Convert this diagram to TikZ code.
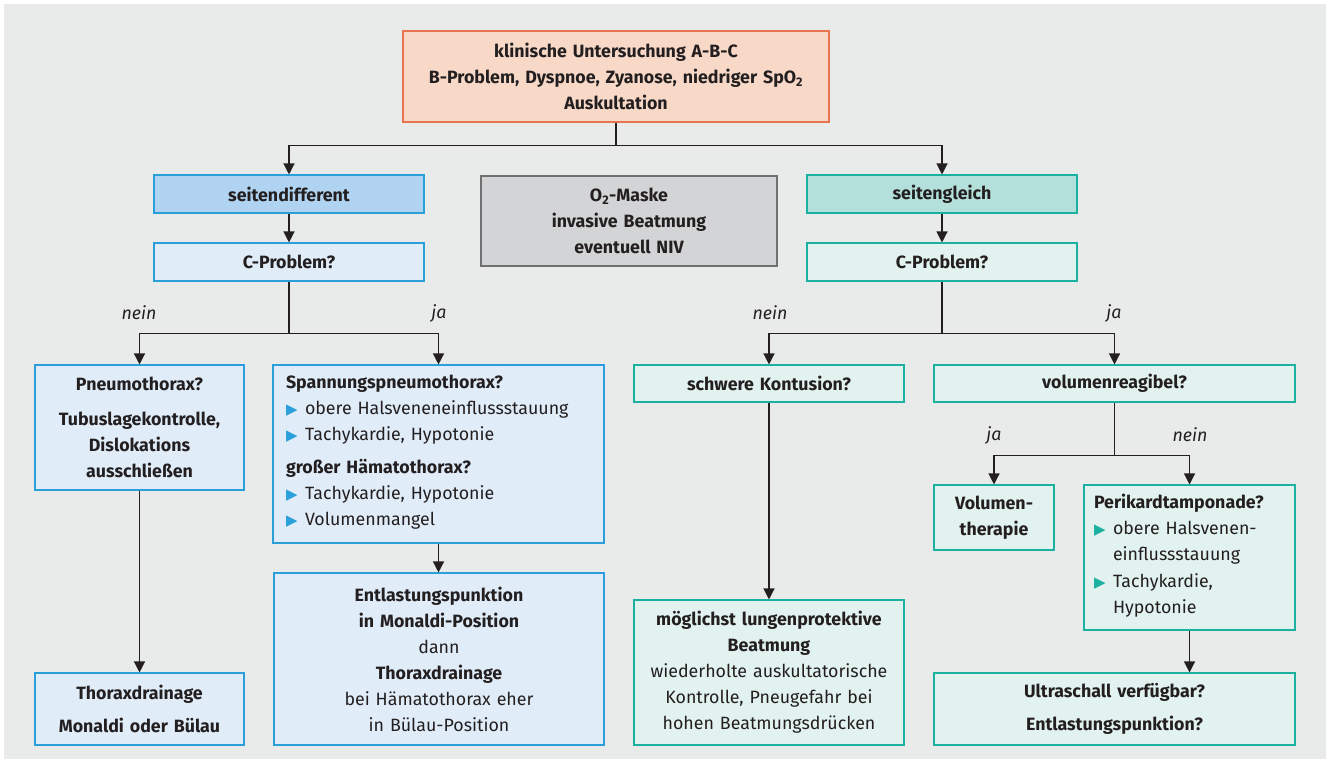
\documentclass[tikz,border=0pt]{standalone}
\usepackage{fontspec}
\setmainfont{Fira Sans}
\newfontfamily\symfont{DejaVu Sans}
\usetikzlibrary{arrows.meta}

\definecolor{bgcol}{HTML}{E9EBEA}
\definecolor{ink}{HTML}{231F20}
\definecolor{peachfill}{HTML}{F8D9C8}
\definecolor{peachline}{HTML}{E8734F}
\definecolor{bluedark}{HTML}{AFD3F0}
\definecolor{bluelight}{HTML}{E0ECF8}
\definecolor{blueline}{HTML}{2B9FD9}
\definecolor{greyfill}{HTML}{D3D4D5}
\definecolor{greyline}{HTML}{707070}
\definecolor{tealdark}{HTML}{B3E0DB}
\definecolor{teallight}{HTML}{E2F2EF}
\definecolor{tealline}{HTML}{1BB0A0}

\setlength\parindent{0pt}
\newcommand\boxfont{\fontsize{17.8}{26}\selectfont}
% bullet line, lines of #2 stay indented
\newcommand\bul[2]{\par\noindent\strut\makebox[19pt][l]{\textcolor{#1}{\symfont\fontsize{15}{15}\selectfont ▶}}\begin{tabular}[t]{@{}l@{}}#2\end{tabular}}

\tikzset{
  box/.style={draw, line width=1.1pt, align=center, inner xsep=6pt, inner ysep=3pt, font=\boxfont, text=ink},
  peachbox/.style={box, draw=peachline, fill=peachfill},
  blueAbox/.style={box, draw=blueline, fill=bluedark},
  blueBbox/.style={box, draw=blueline, fill=bluelight},
  greybox/.style={box, draw=greyline, fill=greyfill},
  tealAbox/.style={box, draw=tealline, fill=tealdark},
  tealBbox/.style={box, draw=tealline, fill=teallight},
  line/.style={draw=ink, line width=1.3pt},
  arr/.style={line, -{Triangle[length=11pt,width=11pt]}},
  lbl/.style={font=\fontsize{17.8}{20}\selectfont\itshape, text=ink},
}

\begin{document}
\begin{tikzpicture}[x=1pt, y=-1pt]
    \useasboundingbox (0,0) rectangle (1330,763);
    \fill[bgcol] (4,4) rectangle (1326,759);

    % top
    \node[peachbox, minimum width=426pt, text width=414pt, minimum height=91pt] (top) at (616,76.5)
      {\bfseries klinische Untersuchung A-B-C\\B-Problem, Dyspnoe, Zyanose, niedriger SpO\textsubscript{2}\\Auskultation};
    \node[greybox, minimum width=296pt, text width=284pt, minimum height=90pt] (mask) at (629,221)
      {\bfseries O\textsubscript{2}-Maske\\invasive Beatmung\\eventuell NIV};

    % left branch
    \node[blueAbox, minimum width=270pt, text width=258pt, minimum height=38pt] (sd) at (289,194) {\bfseries seitendifferent};
    \node[blueBbox, minimum width=270pt, text width=258pt, minimum height=38pt] (cpl) at (289,262) {\bfseries C-Problem?};
    \node[blueBbox, minimum width=209pt, text width=197pt, minimum height=125pt] (pneu) at (139.5,427.5)
      {\bfseries Pneumothorax?\\[9pt]Tubuslagekontrolle,\\Dislokations\\ausschließen};
    \node[blueBbox, align=left, minimum width=331pt, text width=305pt, inner xsep=13pt, minimum height=178pt] (span) at (438.5,454)
      {\textbf{Spannungspneumothorax?}
       \bul{blueline}{obere Halsveneneinflussstauung}
       \bul{blueline}{Tachykardie, Hypotonie}\par\vspace{7pt}
       \textbf{großer Hämatothorax?}
       \bul{blueline}{Tachykardie, Hypotonie}
       \bul{blueline}{Volumenmangel}};
    \node[blueBbox, minimum width=330pt, text width=318pt, minimum height=172pt] (entl) at (439,659)
      {\textbf{Entlastungspunktion}\\\textbf{in Monaldi-Position}\\dann\\\textbf{Thoraxdrainage}\\bei Hämatothorax eher\\in Bülau-Position};
    \node[blueBbox, minimum width=209pt, text width=197pt, minimum height=72pt] (thd) at (139.5,709)
      {\bfseries Thoraxdrainage\\[7pt]Monaldi oder Bülau};

    % right branch
    \node[tealAbox, minimum width=270pt, text width=258pt, minimum height=38pt] (sg) at (942,194) {\bfseries seitengleich};
    \node[tealBbox, minimum width=270pt, text width=258pt, minimum height=38pt] (cpr) at (942,262) {\bfseries C-Problem?};
    \node[tealBbox, minimum width=270pt, text width=262pt, inner xsep=4pt, minimum height=37pt] (kont) at (769,383.5) {\bfseries schwere Kontusion?};
    \node[tealBbox, minimum width=361pt, text width=349pt, minimum height=37pt] (vol) at (1114.5,383.5) {\bfseries volumenreagibel?};
    \node[tealBbox, minimum width=270pt, text width=262pt, inner xsep=4pt, minimum height=145pt] (lung) at (769,672.5)
      {\textbf{möglichst lungenprotektive}\\\textbf{Beatmung}\\wiederholte auskultatorische\\Kontrolle, Pneugefahr bei\\hohen Beatmungsdrücken};
    \node[tealBbox, minimum width=120pt, text width=112pt, inner xsep=4pt, minimum height=65pt] (vth) at (994,517.5)
      {\bfseries Volumen-\\therapie};
    \node[tealBbox, align=left, minimum width=211pt, text width=191pt, inner xsep=10pt, minimum height=145pt] (peri) at (1189.5,557.5)
      {\textbf{Perikardtamponade?}
       \bul{tealline}{obere Halsvenen-\\einflussstauung}
       \bul{tealline}{Tachykardie,\\Hypotonie}};
    \node[tealBbox, minimum width=361pt, text width=349pt, minimum height=72pt] (ultra) at (1114.5,709)
      {\bfseries Ultraschall verfügbar?\\[7pt]Entlastungspunktion?};

    % labels
    \node[lbl] (l1) at (139,313) {nein};
    \node[lbl] (l2) at (439,313) {ja};
    \node[lbl] (l3) at (770,313) {nein};
    \node[lbl] (l4) at (1114,313) {ja};
    \node[lbl] (l5) at (994,435) {ja};
    \node[lbl] (l6) at (1190,435) {nein};

    % connectors
    \draw[line] (top.south) -- ++(0,23) coordinate (c0);
    \draw[arr] (c0) -| (sd.north);
    \draw[arr] (c0) -| (sg.north);
    \draw[arr] (sd) -- (cpl);
    \draw[arr] (sg) -- (cpr);
    \draw[line] (cpl.south) -- ++(0,52) coordinate (c1);
    \draw[arr] (c1) -| (pneu.north);
    \draw[arr] (c1) -| (span.north);
    \draw[arr] (pneu) -- (thd);
    \draw[arr] (span.south) -- (span.south |- entl.north);
    \draw[line] (cpr.south) -- ++(0,52) coordinate (c2);
    \draw[arr] (c2) -| (kont.north);
    \draw[arr] (c2) -| (vol.north);
    \draw[arr] (kont) -- (lung);
    \draw[line] (vol.south) -- ++(0,53) coordinate (c3);
    \draw[arr] (c3) -| (vth.north);
    \draw[arr] (c3) -| (peri.north);
    \draw[arr] (peri.south) -- (peri.south |- ultra.north);
  \end{tikzpicture}
\end{document}
